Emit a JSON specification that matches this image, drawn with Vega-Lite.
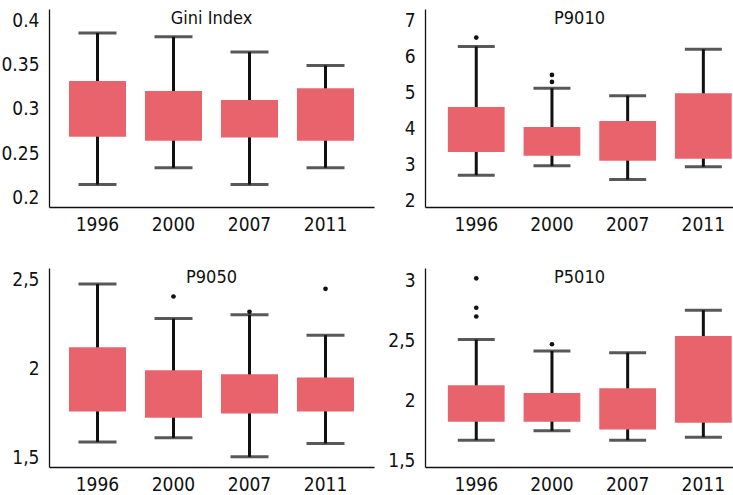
{
  "$schema": "https://vega.github.io/schema/vega-lite/v6.json",
  "padding": {"left": 0, "top": 9, "right": 0, "bottom": 0},
  "background": "white",
  "config": {
    "font": "Liberation Sans Narrow, DejaVu Sans Condensed, sans-serif",
    "view": {"stroke": null},
    "axis": {"labelFont": "Liberation Sans Narrow, DejaVu Sans Condensed, sans-serif", "labelFontSize": 19, "labelColor": "#111", "domainColor": "#111", "domainWidth": 1.3, "ticks": false, "grid": false, "title": null},
    "axisY": {"labelPadding": 10, "minExtent": 48, "maxExtent": 48},
    "axisX": {"labelPadding": 8, "labelAngle": 0, "minExtent": 28, "maxExtent": 28},
    "title": {"font": "Liberation Sans Narrow, DejaVu Sans Condensed, sans-serif", "fontSize": 18, "fontWeight": "normal", "color": "#111", "frame": "group", "anchor": "middle"},
    "concat": {"spacing": 0}
  },
  "datasets": {
    "box": [
      {"panel": "Gini Index", "year": "1996", "lo": 0.2147, "q1": 0.2687, "q3": 0.3317, "hi": 0.3857},
      {"panel": "Gini Index", "year": "2000", "lo": 0.2336, "q1": 0.2642, "q3": 0.3204, "hi": 0.3815},
      {"panel": "Gini Index", "year": "2007", "lo": 0.2147, "q1": 0.2679, "q3": 0.3102, "hi": 0.3642},
      {"panel": "Gini Index", "year": "2011", "lo": 0.2336, "q1": 0.2642, "q3": 0.3234, "hi": 0.3491},
      {"panel": "P9010", "year": "1996", "lo": 2.697, "q1": 3.338, "q3": 4.593, "hi": 6.275},
      {"panel": "P9010", "year": "2000", "lo": 2.957, "q1": 3.236, "q3": 4.035, "hi": 5.113},
      {"panel": "P9010", "year": "2007", "lo": 2.576, "q1": 3.097, "q3": 4.203, "hi": 4.909},
      {"panel": "P9010", "year": "2011", "lo": 2.929, "q1": 3.152, "q3": 4.974, "hi": 6.2},
      {"panel": "P9050", "year": "1996", "lo": 1.59, "q1": 1.761, "q3": 2.121, "hi": 2.476},
      {"panel": "P9050", "year": "2000", "lo": 1.613, "q1": 1.725, "q3": 1.992, "hi": 2.282},
      {"panel": "P9050", "year": "2007", "lo": 1.506, "q1": 1.75, "q3": 1.969, "hi": 2.303},
      {"panel": "P9050", "year": "2011", "lo": 1.581, "q1": 1.761, "q3": 1.952, "hi": 2.189},
      {"panel": "P5010", "year": "1996", "lo": 1.668, "q1": 1.821, "q3": 2.126, "hi": 2.508},
      {"panel": "P5010", "year": "2000", "lo": 1.746, "q1": 1.821, "q3": 2.061, "hi": 2.413},
      {"panel": "P5010", "year": "2007", "lo": 1.668, "q1": 1.757, "q3": 2.101, "hi": 2.399},
      {"panel": "P5010", "year": "2011", "lo": 1.693, "q1": 1.813, "q3": 2.539, "hi": 2.754}
    ],
    "out": [
      {"panel": "P9010", "year": "1996", "v": 6.526},
      {"panel": "P9010", "year": "2000", "v": 5.485},
      {"panel": "P9010", "year": "2000", "v": 5.29},
      {"panel": "P9050", "year": "2000", "v": 2.406},
      {"panel": "P9050", "year": "2007", "v": 2.32},
      {"panel": "P9050", "year": "2011", "v": 2.449},
      {"panel": "P5010", "year": "1996", "v": 3.02},
      {"panel": "P5010", "year": "1996", "v": 2.774},
      {"panel": "P5010", "year": "1996", "v": 2.701},
      {"panel": "P5010", "year": "2000", "v": 2.469}
    ]
  },
  "spacing": 33,
  "vconcat": [
    {
      "spacing": 0,
      "hconcat": [
        {
          "width": 325, "height": 198,
          "title": {"text": "Gini Index", "offset": -19},
          "layer": [
            {"data": {"name": "box"}, "transform": [{"filter": "datum.panel === 'Gini Index'"}], "mark": {"type": "rule", "color": "#111", "strokeWidth": 3},
             "encoding": {"x": {"field": "year", "type": "nominal", "scale": {"paddingInner": 0.25, "paddingOuter": 0.263}, "axis": {}},
                          "y": {"field": "lo", "type": "quantitative", "scale": {"domain": [0.1894, 0.4128], "nice": false, "zero": false}, "axis": {"values": [0.2, 0.25, 0.3, 0.35, 0.4], "tickCount": 5, "format": ".2~f", "labelOverlap": false}},
                          "y2": {"field": "hi"}}},
            {"data": {"name": "box"}, "transform": [{"filter": "datum.panel === 'Gini Index'"}], "mark": {"type": "tick", "color": "#111", "thickness": 3, "size": 38},
             "encoding": {"x": {"field": "year", "type": "nominal"}, "y": {"field": "lo", "type": "quantitative"}}},
            {"data": {"name": "box"}, "transform": [{"filter": "datum.panel === 'Gini Index'"}], "mark": {"type": "tick", "color": "#111", "thickness": 3, "size": 38},
             "encoding": {"x": {"field": "year", "type": "nominal"}, "y": {"field": "hi", "type": "quantitative"}}},
            {"data": {"name": "box"}, "transform": [{"filter": "datum.panel === 'Gini Index'"}], "mark": {"type": "bar", "color": "#E8636B"},
             "encoding": {"x": {"field": "year", "type": "nominal"}, "y": {"field": "q1", "type": "quantitative"}, "y2": {"field": "q3"}}}
          ]
        },
        {
          "width": 309, "height": 198,
          "title": {"text": "P9010", "offset": -19},
          "layer": [
            {"data": {"name": "box"}, "transform": [{"filter": "datum.panel === 'P9010'"}], "mark": {"type": "rule", "color": "#111", "strokeWidth": 3},
             "encoding": {"x": {"field": "year", "type": "nominal", "scale": {"paddingInner": 0.25, "paddingOuter": 0.166, "align": 0.91}, "axis": {}},
                          "y": {"field": "lo", "type": "quantitative", "scale": {"domain": [1.81, 7.32], "nice": false, "zero": false}, "axis": {"values": [2, 3, 4, 5, 6, 7], "tickCount": 6, "labelOverlap": false, "labelSeparation": 0, "labelBound": false, "minExtent": 51, "maxExtent": 51}},
                          "y2": {"field": "hi"}}},
            {"data": {"name": "box"}, "transform": [{"filter": "datum.panel === 'P9010'"}], "mark": {"type": "tick", "color": "#111", "thickness": 3, "size": 37},
             "encoding": {"x": {"field": "year", "type": "nominal"}, "y": {"field": "lo", "type": "quantitative"}}},
            {"data": {"name": "box"}, "transform": [{"filter": "datum.panel === 'P9010'"}], "mark": {"type": "tick", "color": "#111", "thickness": 3, "size": 37},
             "encoding": {"x": {"field": "year", "type": "nominal"}, "y": {"field": "hi", "type": "quantitative"}}},
            {"data": {"name": "box"}, "transform": [{"filter": "datum.panel === 'P9010'"}], "mark": {"type": "bar", "color": "#E8636B"},
             "encoding": {"x": {"field": "year", "type": "nominal"}, "y": {"field": "q1", "type": "quantitative"}, "y2": {"field": "q3"}}},
            {"data": {"name": "out"}, "transform": [{"filter": "datum.panel === 'P9010'"}], "mark": {"type": "point", "filled": true, "color": "#111", "size": 22, "opacity": 1},
             "encoding": {"x": {"field": "year", "type": "nominal"}, "y": {"field": "v", "type": "quantitative"}}}
          ]
        }
      ]
    },
    {
      "spacing": 0,
      "hconcat": [
        {
          "width": 325, "height": 199,
          "title": {"text": "P9050", "offset": -19},
          "layer": [
            {"data": {"name": "box"}, "transform": [{"filter": "datum.panel === 'P9050'"}], "mark": {"type": "rule", "color": "#111", "strokeWidth": 3},
             "encoding": {"x": {"field": "year", "type": "nominal", "scale": {"paddingInner": 0.25, "paddingOuter": 0.263}, "axis": {}},
                          "y": {"field": "lo", "type": "quantitative", "scale": {"domain": [1.449, 2.566], "nice": false, "zero": false}, "axis": {"values": [1.5, 2, 2.5], "format": ".1~f", "labelExpr": "replace(datum.label, '.', ',')", "labelOverlap": false}},
                          "y2": {"field": "hi"}}},
            {"data": {"name": "box"}, "transform": [{"filter": "datum.panel === 'P9050'"}], "mark": {"type": "tick", "color": "#111", "thickness": 3, "size": 38},
             "encoding": {"x": {"field": "year", "type": "nominal"}, "y": {"field": "lo", "type": "quantitative"}}},
            {"data": {"name": "box"}, "transform": [{"filter": "datum.panel === 'P9050'"}], "mark": {"type": "tick", "color": "#111", "thickness": 3, "size": 38},
             "encoding": {"x": {"field": "year", "type": "nominal"}, "y": {"field": "hi", "type": "quantitative"}}},
            {"data": {"name": "box"}, "transform": [{"filter": "datum.panel === 'P9050'"}], "mark": {"type": "bar", "color": "#E8636B"},
             "encoding": {"x": {"field": "year", "type": "nominal"}, "y": {"field": "q1", "type": "quantitative"}, "y2": {"field": "q3"}}},
            {"data": {"name": "out"}, "transform": [{"filter": "datum.panel === 'P9050'"}], "mark": {"type": "point", "filled": true, "color": "#111", "size": 22, "opacity": 1},
             "encoding": {"x": {"field": "year", "type": "nominal"}, "y": {"field": "v", "type": "quantitative"}}}
          ]
        },
        {
          "width": 309, "height": 199,
          "title": {"text": "P5010", "offset": -19},
          "layer": [
            {"data": {"name": "box"}, "transform": [{"filter": "datum.panel === 'P5010'"}], "mark": {"type": "rule", "color": "#111", "strokeWidth": 3},
             "encoding": {"x": {"field": "year", "type": "nominal", "scale": {"paddingInner": 0.25, "paddingOuter": 0.166, "align": 0.91}, "axis": {}},
                          "y": {"field": "lo", "type": "quantitative", "scale": {"domain": [1.444, 3.106], "nice": false, "zero": false}, "axis": {"values": [1.5, 2, 2.5, 3], "format": ".1~f", "labelExpr": "replace(datum.label, '.', ',')", "minExtent": 51, "maxExtent": 51, "labelOverlap": false}},
                          "y2": {"field": "hi"}}},
            {"data": {"name": "box"}, "transform": [{"filter": "datum.panel === 'P5010'"}], "mark": {"type": "tick", "color": "#111", "thickness": 3, "size": 37},
             "encoding": {"x": {"field": "year", "type": "nominal"}, "y": {"field": "lo", "type": "quantitative"}}},
            {"data": {"name": "box"}, "transform": [{"filter": "datum.panel === 'P5010'"}], "mark": {"type": "tick", "color": "#111", "thickness": 3, "size": 37},
             "encoding": {"x": {"field": "year", "type": "nominal"}, "y": {"field": "hi", "type": "quantitative"}}},
            {"data": {"name": "box"}, "transform": [{"filter": "datum.panel === 'P5010'"}], "mark": {"type": "bar", "color": "#E8636B"},
             "encoding": {"x": {"field": "year", "type": "nominal"}, "y": {"field": "q1", "type": "quantitative"}, "y2": {"field": "q3"}}},
            {"data": {"name": "out"}, "transform": [{"filter": "datum.panel === 'P5010'"}], "mark": {"type": "point", "filled": true, "color": "#111", "size": 22, "opacity": 1},
             "encoding": {"x": {"field": "year", "type": "nominal"}, "y": {"field": "v", "type": "quantitative"}}}
          ]
        }
      ]
    }
  ]
}
